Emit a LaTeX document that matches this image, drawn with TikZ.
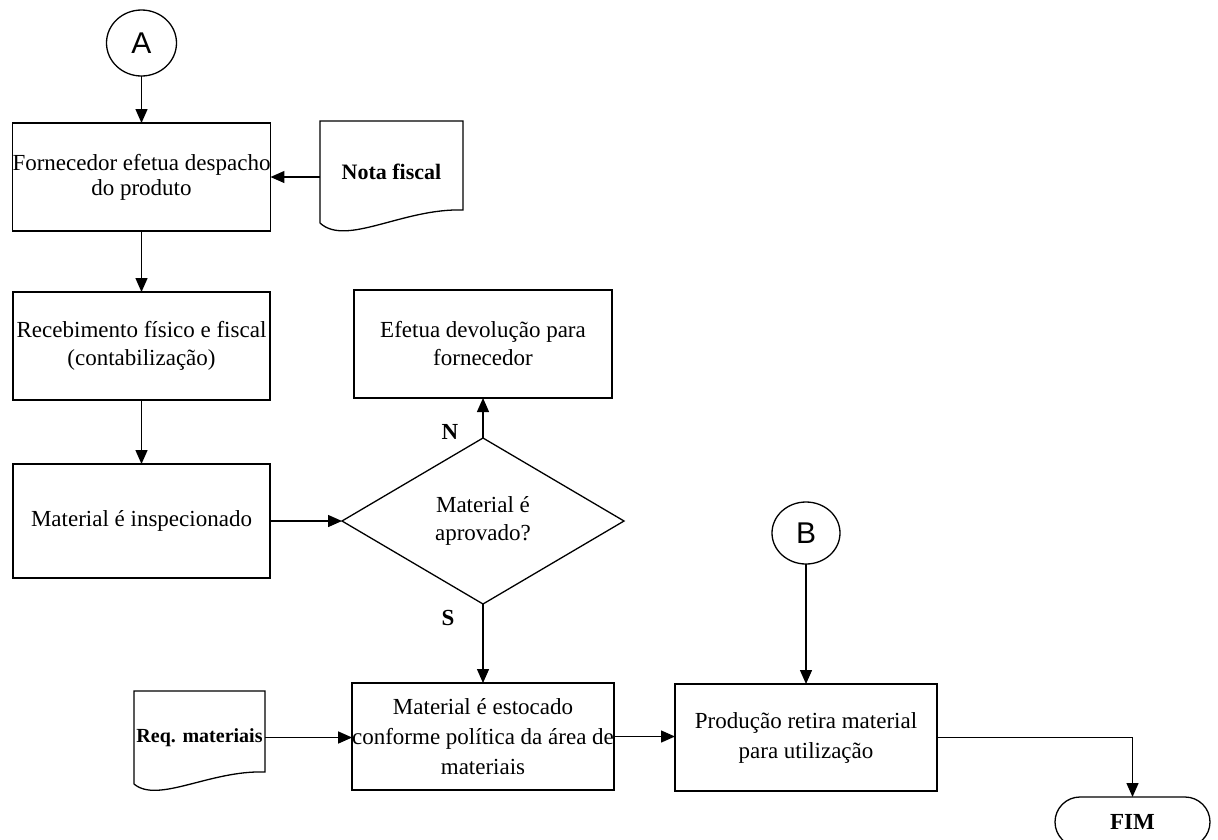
\documentclass[tikz,border=0pt]{standalone}
\usepackage{fontspec}
\setmainfont{Liberation Serif}
\newfontfamily\arialf{Liberation Sans}
\usetikzlibrary{shapes.geometric,shapes.misc,arrows.meta}
\begin{document}
\begin{tikzpicture}[x=1pt,y=-1pt,
  every node/.style={inner sep=0pt, outer sep=0pt},
  txt/.style={font=\fontsize{23}{28}\selectfont, align=center},
  proc/.style={txt, draw, line width=1.3pt, minimum width=257pt, minimum height=108pt},
  conn/.style={draw, ellipse, line width=1.3pt, font=\arialf\fontsize{30}{32}\selectfont},
  docnode/.style={align=center},
  docline/.style={line width=1.3pt, line join=miter},
  decision/.style={txt, draw, diamond, line width=1.3pt, minimum width=282pt, minimum height=166pt},
  term/.style={draw, rounded rectangle, line width=1.3pt, minimum width=155pt, minimum height=50pt, font=\bfseries\fontsize{23}{25}\selectfont},
  yn/.style={font=\bfseries\fontsize{23}{25}\selectfont},
  arr/.style={line width=1.4pt, -{Triangle[length=14pt,width=12pt]}}
]
\useasboundingbox (0,0) rectangle (1218,839);

% nodes
\node[conn, minimum width=70pt, minimum height=66pt] (A) at (141.5,43) {A};
\node[proc, font=\fontsize{23}{25}\selectfont] (b1) at (141.5,177) {Fornecedor efetua despacho\\do produto};
\node[docnode, minimum width=143pt, minimum height=102pt, font=\bfseries\fontsize{22}{24}\selectfont] (nota) at (391.5,172) {Nota fiscal};
\node[proc] (b2) at (141.5,346) {Recebimento físico e fiscal\\(contabilização)};
\node[proc, minimum height=114pt] (b3) at (141.5,521) {Material é inspecionado};
\node[decision] (dia) at (483,521) {Material é\\aprovado?};
\node[proc, minimum width=258pt] (dev) at (483,344) {Efetua devolução para\\fornecedor};
\node[proc, minimum width=260pt, minimum height=107pt, font=\fontsize{23}{30}\selectfont] (stock) at (483,736.5) {Material é estocado\\conforme política da área de\\materiais};
\node[docnode, minimum width=131pt, minimum height=93pt, font=\bfseries\fontsize{20}{22}\selectfont] (req) at (199.5,737.5) {Req. materiais};
\node[proc, minimum width=262pt, minimum height=107pt, font=\fontsize{23}{30}\selectfont] (prod) at (806,737.5) {Produção retira material\\para utilização};
\node[conn, minimum width=68pt, minimum height=62pt] (B) at (806,533) {B};
\node[term] (fim) at (1132.5,822) {FIM};
\node[yn] (N) at (450,432) {N};
\node[yn] (S) at (448,618) {S};

% document outlines
\draw[docline] (nota.south west) -- (nota.north west) -- (nota.north east) -- ([yshift=13pt]nota.south east)
  .. controls ([xshift=-60pt,yshift=15pt]nota.south east) and ([xshift=26pt,yshift=-24pt]nota.south west) .. (nota.south west);
\draw[docline] (req.south west) -- (req.north west) -- (req.north east) -- ([yshift=12pt]req.south east)
  .. controls ([xshift=-55pt,yshift=14pt]req.south east) and ([xshift=24pt,yshift=-20pt]req.south west) .. (req.south west);

% connectors
\draw[arr] (A) -- (b1);
\draw[arr] (nota.west |- b1.east) -- (b1.east);
\draw[arr] (b1) -- (b2);
\draw[arr] (b2) -- (b3);
\draw[arr] (b3.east) -- (dia.west);
\draw[arr] (dia.north) -- (dev.south);
\draw[arr] (dia.south) -- (stock.north);
\draw[arr] (req.east) -- (req.east -| stock.west);
\draw[arr] (stock.east) -- (stock.east -| prod.west);
\draw[arr] (B) -- (prod);
\draw[arr] (prod.east) -| (fim.north);
\end{tikzpicture}
\end{document}
